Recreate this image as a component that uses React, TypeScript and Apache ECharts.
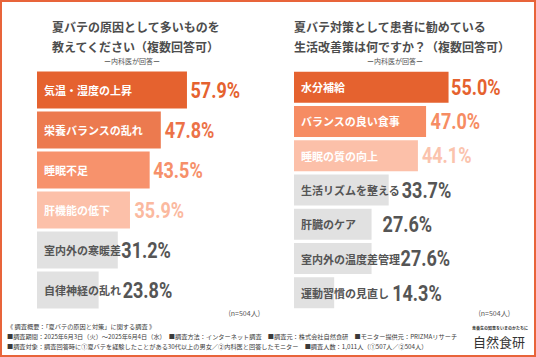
import React, { useEffect, useRef } from "react";
import * as echarts from "echarts";

// Left chart: causes
const leftCategories = ["気温・湿度の上昇", "栄養バランスの乱れ", "睡眠不足", "肝機能の低下", "室内外の寒暖差", "自律神経の乱れ"];
const leftValues = [57.9, 47.8, 43.5, 35.9, 31.2, 23.8];

// Right chart: recommendations
const rightCategories = ["水分補給", "バランスの良い食事", "睡眠の質の向上", "生活リズムを整える", "肝臓のケア", "室内外の温度差管理", "運動習慣の見直し"];
const rightValues = [55.0, 47.0, 44.1, 33.7, 27.6, 27.6, 14.3];

// styles (kept apart from data)
const leftBarColors = ["#e5622f", "#ec7a4f", "#f7926c", "#fcc0a9", "#e1e1e1", "#e1e1e1"];
const leftValueColors = ["#e5622f", "#ec7248", "#f6906a", "#fbb99f", "#555555", "#555555"];
const leftInsideColors = ["#ffffff", "#ffffff", "#ffffff", "#ffffff", "#555555", "#555555"];
const leftValueGap = [3.5, 4, 3.5, 4.5, 3.5, 24];

const rightBarColors = ["#e5622f", "#f68c63", "#fcc0a9", "#e1e1e1", "#e1e1e1", "#e1e1e1", "#e1e1e1"];
const rightValueColors = ["#e5622f", "#f68c63", "#fbc3ad", "#555555", "#555555", "#555555", "#555555"];
const rightInsideColors = ["#ffffff", "#ffffff", "#ffffff", "#555555", "#555555", "#555555", "#555555"];
const rightValueGap = [2.5, 4.5, 4, 13, 11, 29, 58];

const CJK = "'Noto Sans CJK JP', 'Noto Sans', sans-serif";
const NUM = "Roboto, 'DejaVu Sans', sans-serif";

const footerLines = [
  "《 調査概要：「夏バテの原因と対策」に関する調査 》",
  "■調査期間：2025年6月3日（火）～2025年6月4日（水）　■調査方法：インターネット調査　■調査元：株式会社自然食研　■モニター提供元：PRIZMAリサーチ",
  "■調査対象：調査回答時に①夏バテを経験したことがある30代以上の男女／②内科医と回答したモニター　■調査人数：1,011人（①507人／②504人）",
];

function buildSeries(
  idx: number,
  cats: string[],
  vals: number[],
  barColors: string[],
  insideColors: string[],
  barWidth: number
) {
  return {
    type: "bar",
    xAxisIndex: idx,
    yAxisIndex: idx,
    barWidth,
    data: vals.map((v, i) => ({
      value: v,
      itemStyle: { color: barColors[i] },
      label: { color: insideColors[i] },
    })),
    label: {
      show: true,
      position: "insideLeft",
      distance: 7,
      formatter: (p: any) => cats[p.dataIndex],
      fontFamily: CJK,
      fontWeight: "bold",
      fontSize: 11,
    },
    silent: true,
  };
}

export default function App() {
  const ref = useRef<HTMLDivElement>(null);
  useEffect(() => {
    document.body.style.margin = "0";
    const chart = echarts.init(ref.current!, null, { renderer: "svg" });
    const titleStyle = { fontFamily: CJK, fontWeight: "bold", fontSize: 12, fill: "#4d4d4d" };
    const staticGraphics: any[] = [
      {
        type: "rect",
        shape: { x: 1, y: 1, width: 534, height: 355 },
        style: { fill: "none", stroke: "#e8643a", lineWidth: 2 },
        silent: true,
      },
      { type: "text", left: 52, top: 20, style: { ...titleStyle, text: "夏バテの原因として多いものを" } },
      { type: "text", left: 52, top: 40, style: { ...titleStyle, text: "教えてください（複数回答可）" } },
      { type: "text", left: 294, top: 20, style: { ...titleStyle, text: "夏バテ対策として患者に勧めている" } },
      { type: "text", left: 294, top: 40, style: { ...titleStyle, text: "生活改善策は何ですか？（複数回答可）" } },
      { type: "text", x: 132, y: 61, style: { text: "ー内科医が回答ー", fontFamily: CJK, fontSize: 7, fill: "#555", align: "center", verticalAlign: "middle" } },
      { type: "text", x: 395, y: 61, style: { text: "ー内科医が回答ー", fontFamily: CJK, fontSize: 7, fill: "#555", align: "center", verticalAlign: "middle" } },
      { type: "text", x: 260, y: 313, style: { text: "(n=504人)", fontFamily: CJK, fontSize: 7, fill: "#555", align: "right", verticalAlign: "middle" } },
      { type: "text", x: 510, y: 313, style: { text: "(n=504人)", fontFamily: CJK, fontSize: 7, fill: "#555", align: "right", verticalAlign: "middle" } },
      ...footerLines.map((t, i) => ({
        type: "text",
        x: 7,
        y: 326 + i * 10.3,
        style: { text: t, fontFamily: CJK, fontSize: 6.2, fill: "#3a3a3a", verticalAlign: "middle" },
      })),
      { type: "text", x: 500, y: 328, style: { text: "食養生の知恵をいまのかたちに", fontFamily: CJK, fontSize: 4, fontWeight: "bold", fill: "#333", align: "center", verticalAlign: "middle" } },
      { type: "text", x: 499, y: 341, style: { text: "自然食研", fontFamily: CJK, fontSize: 13, fill: "#333", align: "center", verticalAlign: "middle" } },
    ];
    chart.setOption({
      animation: false,
      backgroundColor: "#ffffff",
      grid: [
        { left: 37, top: 70, width: 207.2, height: 240 },
        { left: 294, top: 70, width: 224.8, height: 240 },
      ],
      xAxis: [
        { type: "value", gridIndex: 0, min: 0, max: 80, show: false },
        { type: "value", gridIndex: 1, min: 0, max: 80, show: false },
      ],
      yAxis: [
        { type: "category", gridIndex: 0, data: leftCategories, inverse: true, show: false },
        { type: "category", gridIndex: 1, data: rightCategories, inverse: true, show: false },
      ],
      series: [
        buildSeries(0, leftCategories, leftValues, leftBarColors, leftInsideColors, 37),
        buildSeries(1, rightCategories, rightValues, rightBarColors, rightInsideColors, 31),
      ],
      graphic: staticGraphics,
    });

    // value labels placed through the chart's own scales
    const valueLabels = (gridIndex: number, vals: number[], colors: string[], gaps: number[]) =>
      vals.map((v, i) => {
        const [px, py] = chart.convertToPixel({ gridIndex } as any, [v, i]) as number[];
        return {
          type: "text",
          x: px + gaps[i],
          y: py,
          scaleX: 0.82,
          silent: true,
          style: {
            text: v.toFixed(1) + "%",
            fontFamily: NUM,
            fontWeight: "bold",
            fontSize: 22,
            fill: colors[i],
            verticalAlign: "middle",
          },
        };
      });
    chart.setOption({
      graphic: [
        ...staticGraphics,
        ...valueLabels(0, leftValues, leftValueColors, leftValueGap),
        ...valueLabels(1, rightValues, rightValueColors, rightValueGap),
      ],
    });
    return () => chart.dispose();
  }, []);
  return <div ref={ref} style={{ position: "absolute", left: 0, top: 0, width: 536, height: 357 }} />;
}
